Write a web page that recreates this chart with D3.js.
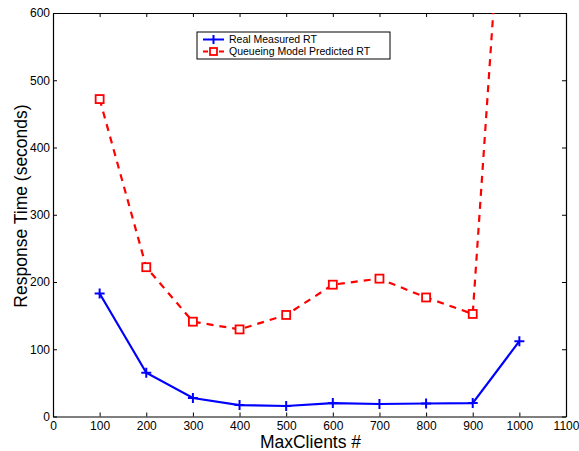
<!DOCTYPE html>
<html><head><meta charset="utf-8">
<script src="https://cdn.jsdelivr.net/npm/d3@7"></script>
<style>body{margin:0;background:#fff}svg{display:block}text{font-family:"Liberation Sans",Arial,sans-serif}</style>
</head><body><svg id="c" width="579" height="451"></svg>
<script>
const clients = [100,200,300,400,500,600,700,800,900,1000];
const realRT = [183,65,27.5,17,15.6,20,18.6,19.3,20,112];
const modelRT = [472,222,141,129.5,151,196,205,177,152.5,1170];
const xTicks = [0,100,200,300,400,500,600,700,800,900,1000,1100];
const yTicks = [0,100,200,300,400,500,600];
const seriesNames = ["Real Measured RT","Queueing Model Predicted RT"];

const svg = d3.select("#c");
const L=53,R=566,T=13,B=416.5;
const x = d3.scaleLinear().domain([0,1100]).range([L,R]);
const y = d3.scaleLinear().domain([0,600]).range([B,T]);

svg.append("defs").append("clipPath").attr("id","clip")
  .append("rect").attr("x",L).attr("y",T).attr("width",R-L).attr("height",B-T);

const fmt = d3.format("d");
const gb = svg.append("g").attr("transform",`translate(0,${B})`)
  .call(d3.axisBottom(x).tickValues(xTicks).tickFormat(fmt).tickSizeInner(-4).tickSizeOuter(0).tickPadding(5));
const gt = svg.append("g").attr("transform",`translate(0,${T})`)
  .call(d3.axisTop(x).tickValues(xTicks).tickFormat("").tickSizeInner(-4).tickSizeOuter(0));
const gl = svg.append("g").attr("transform",`translate(${L},0)`)
  .call(d3.axisLeft(y).tickValues(yTicks).tickFormat(fmt).tickSizeInner(-4).tickSizeOuter(0).tickPadding(3));
const gr = svg.append("g").attr("transform",`translate(${R},0)`)
  .call(d3.axisRight(y).tickValues(yTicks).tickFormat("").tickSizeInner(-4).tickSizeOuter(0));
[gb,gt,gl,gr].forEach(g=>{
  g.select(".domain").attr("stroke","#000").attr("stroke-width",1.2);
  g.selectAll(".tick line").attr("stroke","#000");
  g.selectAll("text").attr("font-size",12).attr("fill","#000").attr("font-family","Liberation Sans, Arial, sans-serif");
});

const plot = svg.append("g").attr("clip-path","url(#clip)");
const line = d3.line().x((d,i)=>x(clients[i])).y(d=>y(d));

plot.append("path").datum(modelRT).attr("d",line)
  .attr("fill","none").attr("stroke","#ff0000").attr("stroke-width",2.2).attr("stroke-dasharray","7,6");
plot.append("path").datum(realRT).attr("d",line)
  .attr("fill","none").attr("stroke","#0000ff").attr("stroke-width",2.2);

modelRT.forEach((v,i)=>{
  if(v>600) return;
  plot.append("rect").attr("x",x(clients[i])-4).attr("y",y(v)-4).attr("width",8).attr("height",8)
    .attr("fill","#fff").attr("stroke","#ff0000").attr("stroke-width",1.8);
});
realRT.forEach((v,i)=>{
  const cx=x(clients[i]), cy=y(v);
  plot.append("path").attr("d",`M${cx-5},${cy}H${cx+5}M${cx},${cy-5}V${cy+5}`)
    .attr("stroke","#0000ff").attr("stroke-width",2);
});

const lg = svg.append("g");
lg.append("rect").attr("x",197).attr("y",32).attr("width",193).attr("height",27)
  .attr("fill","#fff").attr("stroke","#000").attr("stroke-width",1);
const ly=[39.5,51.5];
lg.append("line").attr("x1",203).attr("x2",224).attr("y1",ly[0]).attr("y2",ly[0]).attr("stroke","#0000ff").attr("stroke-width",2);
lg.append("path").attr("d",`M213.5,${ly[0]-4.5}V${ly[0]+4.5}`).attr("stroke","#0000ff").attr("stroke-width",2);
lg.append("line").attr("x1",203).attr("x2",224).attr("y1",ly[1]).attr("y2",ly[1]).attr("stroke","#ff0000").attr("stroke-width",2).attr("stroke-dasharray","5,3");
lg.append("rect").attr("x",210).attr("y",ly[1]-3.5).attr("width",7).attr("height",7).attr("fill","#fff").attr("stroke","#ff0000").attr("stroke-width",1.8);
seriesNames.forEach((n,i)=>{
  lg.append("text").attr("x",229).attr("y",ly[i]+3.8).attr("font-size",10.5).attr("fill","#000").text(n);
});

svg.append("text").attr("x",310.5).attr("y",448).attr("text-anchor","middle").attr("font-size",17.5).text("MaxClients #");
svg.append("text").attr("transform",`translate(27,206) rotate(-90)`).attr("text-anchor","middle").attr("font-size",17.5).text("Response Time (seconds)");
</script></body></html>
